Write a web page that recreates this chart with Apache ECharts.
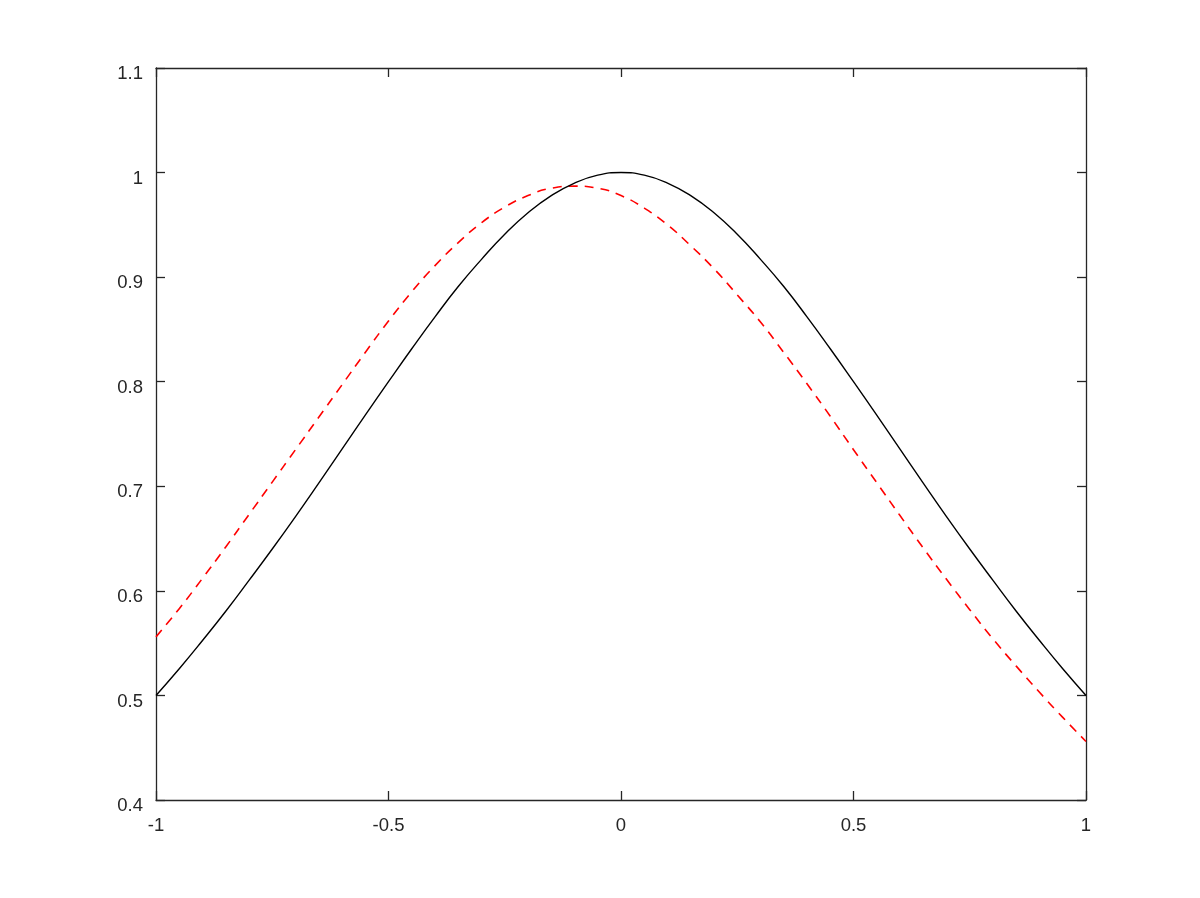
<!DOCTYPE html>
<html>
<head>
<meta charset="utf-8">
<script src="https://cdn.jsdelivr.net/npm/echarts@6/dist/echarts.min.js"></script>
<style>
html,body{margin:0;padding:0;background:#fff;}
#chart{width:1200px;height:898px;}
</style>
</head>
<body>
<div id="chart"></div>
<script>
// x positions (read at 0.05 steps)
var xs = [-1.00,-0.95,-0.90,-0.85,-0.80,-0.75,-0.70,-0.65,-0.60,-0.55,-0.50,-0.45,-0.40,-0.35,-0.30,-0.25,-0.20,-0.15,-0.10,-0.05,
          0.00,0.05,0.10,0.15,0.20,0.25,0.30,0.35,0.40,0.45,0.50,0.55,0.60,0.65,0.70,0.75,0.80,0.85,0.90,0.95,1.00];
// solid black curve
var blackY = [0.500,0.5255,0.5525,0.5805,0.610,0.640,0.671,0.703,0.7355,0.768,0.800,0.8315,0.862,0.891,0.917,0.941,0.9615,0.978,0.990,0.9975,
              1.000,0.9975,0.990,0.978,0.9615,0.941,0.917,0.891,0.862,0.8315,0.800,0.768,0.7355,0.703,0.671,0.640,0.610,0.5805,0.5525,0.5255,0.500];
// dashed red curve
var redY = [0.556,0.583,0.612,0.642,0.673,0.704,0.735,0.766,0.797,0.828,0.858,0.886,0.911,0.933,0.952,0.967,0.978,0.985,0.987,0.985,
            0.978,0.966,0.950,0.930,0.908,0.883,0.857,0.828,0.798,0.767,0.735,0.7035,0.672,0.641,0.611,0.582,0.554,0.528,0.503,0.479,0.456];
var xTicks = {min:-1, max:1, interval:0.5};
var yTicks = {min:0.4, max:1.1, interval:0.1};

function pairs(xv, yv){ var out=[]; for(var i=0;i<xv.length;i++){ out.push([xv[i], yv[i]]); } return out; }

var axisColor = '#262626';
var font = 'Liberation Sans, Arial, Helvetica, sans-serif';
function xAx(pos, showLabel){
  return {
    type:'value', position:pos, min:xTicks.min, max:xTicks.max, interval:xTicks.interval,
    axisLine:{show:true, onZero:false, lineStyle:{color:axisColor, width:1.3}},
    axisTick:{show:true, inside:true, length:9, lineStyle:{color:axisColor, width:1.3}},
    axisLabel:{show:showLabel, color:axisColor, fontSize:18.5, fontFamily:font, margin:16},
    splitLine:{show:false}
  };
}
function yAx(pos, showLabel){
  return {
    type:'value', position:pos, min:yTicks.min, max:yTicks.max, interval:yTicks.interval,
    axisLine:{show:true, onZero:false, lineStyle:{color:axisColor, width:1.3}},
    axisTick:{show:true, inside:true, length:9, lineStyle:{color:axisColor, width:1.3}},
    axisLabel:{show:showLabel, color:axisColor, fontSize:18.5, fontFamily:font, margin:13,
               verticalAlign:'top', lineHeight:12},
    splitLine:{show:false}
  };
}

var chart = echarts.init(document.getElementById('chart'), null, {renderer:'canvas'});
chart.setOption({
  backgroundColor:'#ffffff',
  animation:false,
  grid:{left:156, right:114, top:68, bottom:98, containLabel:false},
  xAxis:[xAx('bottom', true), xAx('top', false)],
  yAxis:[yAx('left', true), yAx('right', false)],
  series:[
    {type:'line', xAxisIndex:0, yAxisIndex:0, data:pairs(xs, blackY), showSymbol:false, smooth:0.5,
     lineStyle:{color:'#000000', width:1.4}, z:3},
    {type:'line', xAxisIndex:0, yAxisIndex:0, data:pairs(xs, redY), showSymbol:false, smooth:0.5,
     lineStyle:{color:'#ff0000', width:1.6, type:[9,7]}, z:2}
  ]
});
</script>
</body>
</html>
